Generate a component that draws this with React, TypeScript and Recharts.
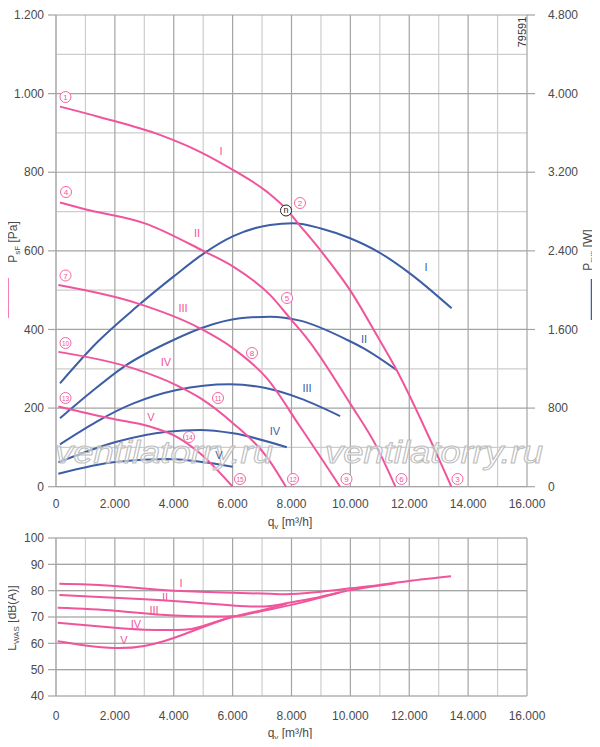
import React from "react";
import {
  LineChart,
  Line,
  XAxis,
  YAxis,
  CartesianGrid,
} from "recharts";

// pressure curves P_sF [Pa] for fan speeds I..V (q in m3/h)
const pressI = [[136, 967], [1500, 940], [3530, 895], [4890, 852], [6010, 806], [7170, 750], [7850, 704], [8180, 674], [9020, 598], [9990, 500], [10900, 385], [11570, 297], [12820, 102], [13430, 0]];
const pressII = [[136, 723], [985, 706], [3020, 670], [5000, 600], [6020, 560], [7270, 488], [8000, 424], [8570, 373], [9990, 212], [10890, 102], [11530, 0]];
const pressIII = [[80, 513], [2740, 467], [4890, 403], [6020, 352], [7160, 276], [8290, 153], [9650, 0]];
const pressIV = [[80, 343], [2630, 301], [4100, 258], [4890, 226], [6020, 161], [7160, 76], [7810, 0]];
const pressV = [[80, 204], [1830, 174], [3190, 153], [4100, 127], [4890, 85], [6000, 0]];

// power curves P_sys [W]
const powerI = [[136, 1052], [1400, 1470], [2740, 1830], [4000, 2140], [5000, 2370], [6020, 2550], [7270, 2663], [8060, 2680], [9000, 2628], [9990, 2528], [11000, 2380], [12020, 2171], [13440, 1815]];
const powerII = [[136, 696], [1100, 940], [2300, 1220], [3990, 1493], [5000, 1620], [6250, 1713], [7270, 1730], [8290, 1690], [9900, 1493], [10440, 1410], [11570, 1187]];
const powerIII = [[136, 431], [2630, 848], [4100, 984], [5910, 1042], [7160, 1001], [8290, 899], [9650, 719]];
const powerIV = [[80, 248], [2060, 458], [3770, 560], [4890, 577], [6020, 543], [7840, 401]];
const powerV = [[80, 132], [2060, 254], [3770, 282], [4890, 254], [6000, 204]];

// sound power L_WAS [dB(A)]
const soundI = [[114, 82.6], [1730, 82.0], [3000, 80.8], [4000, 80.0], [6000, 79.2], [7280, 78.8], [8000, 78.7], [9000, 79.6], [10000, 80.9], [11000, 82.2], [12000, 83.7], [13420, 85.5]];
const soundII = [[114, 78.4], [3000, 76.7], [5000, 75.2], [6000, 74.4], [7060, 74.0], [7830, 75.2], [9000, 77.7], [10000, 80.2], [11000, 82.0], [11530, 82.8]];
const soundIII = [[57, 73.5], [2000, 72.4], [4000, 70.6], [6000, 70.3], [6600, 71.3], [8000, 74.6], [9000, 77.4], [9650, 79.3]];
const soundIV = [[57, 67.8], [2000, 65.9], [3000, 65.2], [4330, 65.2], [5000, 66.6], [6000, 70.0], [7000, 72.6], [7830, 75.0]];
const soundV = [[57, 60.8], [1000, 59.2], [2000, 58.2], [3000, 59.0], [4000, 62.0], [5000, 66.2], [6000, 70.3]];

const qTicks = [0, 2000, 4000, 6000, 8000, 10000, 12000, 14000, 16000];
const qMinor = [1000, 3000, 5000, 7000, 9000, 11000, 13000, 15000];
const pTicks = [0, 200, 400, 600, 800, 1000, 1200];
const pMinor = [100, 300, 500, 700, 900, 1100];
const wTicks = [0, 800, 1600, 2400, 3200, 4000, 4800];
const dbTicks = [40, 50, 60, 70, 80, 90, 100];

const PINK = "#f0559b";
const BLUE = "#3d5ea6";
const TXT = "#4a4a4a";
const FONT = "'Liberation Sans', Arial, sans-serif";

const toRows = (pts: number[][]) => pts.map(([q, v]) => ({ q, v }));
const fmt = (v: number) => String(v).replace(/\B(?=(\d{3})+(?!\d))/g, ".");

const tickStyle = { fontSize: 12, fill: TXT, fontFamily: FONT };

// circled point numbers and curve names (page pixels)
const circled = [
  { n: "1", x: 65.5, y: 97 }, { n: "2", x: 300, y: 203 }, { n: "3", x: 457.5, y: 479 },
  { n: "4", x: 66, y: 192 }, { n: "5", x: 287, y: 298 }, { n: "6", x: 401.5, y: 479 },
  { n: "7", x: 65.5, y: 275.5 }, { n: "8", x: 252, y: 353 }, { n: "9", x: 346.5, y: 479 },
  { n: "10", x: 65.5, y: 343 }, { n: "11", x: 218, y: 398 }, { n: "12", x: 293, y: 479 },
  { n: "13", x: 65.5, y: 398 }, { n: "14", x: 189, y: 437 }, { n: "15", x: 240, y: 479 },
];
const pinkNames = [
  { t: "I", x: 221, y: 151 }, { t: "II", x: 197, y: 233 }, { t: "III", x: 183, y: 308 },
  { t: "IV", x: 166, y: 362 }, { t: "V", x: 151, y: 417 },
];
const blueNames = [
  { t: "I", x: 426, y: 267 }, { t: "II", x: 364, y: 339 }, { t: "III", x: 307, y: 388 },
  { t: "IV", x: 275, y: 431 }, { t: "V", x: 219, y: 455 },
];
const soundNames = [
  { t: "I", x: 181, y: 583 }, { t: "II", x: 165, y: 597 }, { t: "III", x: 154, y: 610 },
  { t: "IV", x: 136, y: 624 }, { t: "V", x: 124, y: 640 },
];

const pressSeries = [pressI, pressII, pressIII, pressIV, pressV];
const powerSeries = [powerI, powerII, powerIII, powerIV, powerV];
const soundSeries = [soundI, soundII, soundIII, soundIV, soundV];

function TopChart() {
  return (
    <LineChart width={600} height={540} margin={{ top: 15, right: 0, bottom: 0, left: 0 }}>
      <CartesianGrid
        yAxisId="left"
        stroke="#cdcdcd"
        strokeWidth={1.2}
        horizontalValues={[...pTicks, ...pMinor]}
        verticalValues={[...qTicks, ...qMinor]}
      />
      <CartesianGrid
        yAxisId="left"
        stroke="#a4a4a4"
        strokeWidth={1.2}
        horizontalValues={pTicks}
        verticalValues={qTicks}
      />
      <XAxis
        dataKey="q"
        type="number"
        domain={[0, 16000]}
        ticks={qTicks}
        tickFormatter={fmt}
        tick={tickStyle}
        tickLine={false}
        axisLine={false}
        tickSize={0}
        tickMargin={13}
        height={53.3}
        allowDuplicatedCategory={false}
      />
      <YAxis
        yAxisId="left"
        domain={[0, 1200]}
        ticks={pTicks}
        tickFormatter={fmt}
        tick={tickStyle}
        axisLine={false}
        tickLine={{ stroke: "#a4a4a4", strokeWidth: 1.2 }}
        tickSize={8}
        tickMargin={4}
        width={56}
      />
      <YAxis
        yAxisId="right"
        orientation="right"
        domain={[0, 4800]}
        ticks={wTicks}
        tickFormatter={fmt}
        tick={tickStyle}
        axisLine={false}
        tickLine={{ stroke: "#a4a4a4", strokeWidth: 1.2 }}
        tickSize={8}
        tickMargin={13}
        width={73}
      />
      {powerSeries.map((s, i) => (
        <Line
          key={"w" + i}
          yAxisId="right"
          data={toRows(s)}
          dataKey="v"
          type="monotone"
          stroke={BLUE}
          strokeWidth={2}
          dot={false}
          isAnimationActive={false}
        />
      ))}
      {pressSeries.map((s, i) => (
        <Line
          key={"p" + i}
          yAxisId="left"
          data={toRows(s)}
          dataKey="v"
          type="monotone"
          stroke={PINK}
          strokeWidth={2}
          dot={false}
          isAnimationActive={false}
        />
      ))}
    </LineChart>
  );
}

function BottomChart() {
  return (
    <LineChart width={600} height={227} margin={{ top: 18, right: 73, bottom: 0, left: 0 }}>
      <CartesianGrid
        stroke="#cdcdcd"
        strokeWidth={1.2}
        horizontalValues={dbTicks}
        verticalValues={[...qTicks, ...qMinor]}
      />
      <CartesianGrid
        stroke="#a4a4a4"
        strokeWidth={1.2}
        horizontalValues={dbTicks}
        verticalValues={qTicks}
      />
      <XAxis
        dataKey="q"
        type="number"
        domain={[0, 16000]}
        ticks={qTicks}
        tickFormatter={fmt}
        tick={tickStyle}
        tickLine={false}
        axisLine={false}
        tickSize={0}
        tickMargin={15}
        height={51}
        allowDuplicatedCategory={false}
      />
      <YAxis
        domain={[40, 100]}
        ticks={dbTicks}
        tick={tickStyle}
        axisLine={false}
        tickLine={{ stroke: "#a4a4a4", strokeWidth: 1.2 }}
        tickSize={8}
        tickMargin={4}
        width={56}
      />
      {soundSeries.map((s, i) => (
        <Line
          key={"s" + i}
          data={toRows(s)}
          dataKey="v"
          type="natural"
          stroke={PINK}
          strokeWidth={2}
          dot={false}
          isAnimationActive={false}
        />
      ))}
    </LineChart>
  );
}

function Overlay() {
  const name = (a: { t: string; x: number; y: number }, c: string, k: string) => (
    <text key={k} x={a.x} y={a.y} fill={c} fontSize={11} textAnchor="middle" dominantBaseline="central">
      {a.t}
    </text>
  );
  return (
    <svg
      width={600}
      height={747}
      style={{ position: "absolute", left: 0, top: 0, pointerEvents: "none" }}
      fontFamily={FONT}
    >
      {/* watermark */}
      {[55, 325].map((x) => (
        <text
          key={x}
          x={x}
          y={463}
          fontSize={31}
          fontStyle="italic"
          fill="rgba(255,255,255,0.55)"
          stroke="#bdbdbd"
          strokeWidth={1}
          textLength={218}
          lengthAdjust="spacingAndGlyphs"
        >
          ventilatorry.ru
        </text>
      ))}

      {circled.map((c) => (
        <g key={c.n}>
          <circle cx={c.x} cy={c.y} r={5.5} fill="#fff" stroke={PINK} strokeWidth={0.9} />
          <text
            x={c.x}
            y={c.y + 0.5}
            fill={PINK}
            fontSize={c.n.length > 1 ? 6.5 : 8}
            textAnchor="middle"
            dominantBaseline="central"
          >
            {c.n}
          </text>
        </g>
      ))}
      <circle cx={286} cy={210.5} r={5.5} fill="#fff" stroke="#222" strokeWidth={1} />
      <text x={286} y={210} fill="#222" fontSize={9} textAnchor="middle" dominantBaseline="central">
        n
      </text>

      {pinkNames.map((a, i) => name(a, PINK, "pn" + i))}
      {blueNames.map((a, i) => name(a, BLUE, "bn" + i))}
      {soundNames.map((a, i) => name(a, PINK, "sn" + i))}

      {/* drawing number */}
      <text
        x={522}
        y={32}
        fill="#333"
        fontSize={11}
        textAnchor="middle"
        dominantBaseline="central"
        transform="rotate(-90 522 32)"
      >
        79591
      </text>

      {/* axis titles */}
      <g transform="translate(13 242) rotate(-90)">
        <text x={0} y={4} fill={TXT} fontSize={12} textAnchor="middle">
          P<tspan fontSize={8} dy={3}>sF</tspan>
          <tspan dy={-3}> [Pa]</tspan>
        </text>
      </g>
      <line x1={8} y1={278} x2={8} y2={318} stroke={PINK} strokeWidth={1.5} />
      <g transform="translate(588 250) rotate(-90)">
        <text x={0} y={4} fill={TXT} fontSize={12} textAnchor="middle">
          P<tspan fontSize={8} dy={3}>sys</tspan>
          <tspan dy={-3}> [W]</tspan>
        </text>
      </g>
      <line x1={591.5} y1={279} x2={591.5} y2={320} stroke={BLUE} strokeWidth={1.5} />
      <text x={290} y={526} fill={TXT} fontSize={12} textAnchor="middle">
        q<tspan fontSize={8} dy={3}>v</tspan>
        <tspan dy={-3}> [m³/h]</tspan>
      </text>
      <g transform="translate(12 618) rotate(-90)">
        <text x={0} y={4} fill={TXT} fontSize={12} textAnchor="middle">
          L<tspan fontSize={8} dy={3}>WAS</tspan>
          <tspan dy={-3}> [dB(A)]</tspan>
        </text>
      </g>
      <text x={290} y={737} fill={TXT} fontSize={12} textAnchor="middle">
        q<tspan fontSize={8} dy={3}>v</tspan>
        <tspan dy={-3}> [m³/h]</tspan>
      </text>
    </svg>
  );
}

export default function App() {
  return (
    <div style={{ position: "relative", width: 600, height: 747, margin: -8, background: "#fff", fontFamily: FONT }}>
      <div style={{ position: "absolute", left: 0, top: 0 }}>
        <TopChart />
      </div>
      <div style={{ position: "absolute", left: 0, top: 520 }}>
        <BottomChart />
      </div>
      <Overlay />
    </div>
  );
}
